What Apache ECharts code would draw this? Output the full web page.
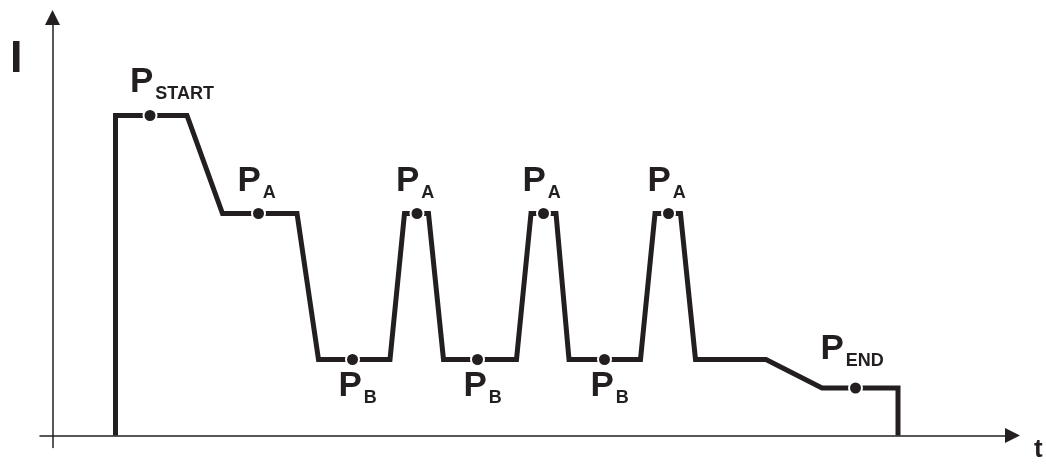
<!DOCTYPE html>
<html>
<head>
<meta charset="utf-8">
<script src="https://cdn.jsdelivr.net/npm/echarts@6/dist/echarts.min.js"></script>
<style>
  html, body { margin: 0; padding: 0; background: #ffffff; }
  #chart { width: 1046px; height: 465px; }
</style>
</head>
<body>
<div id="chart"></div>
<script>
// ---- data (time t, current I) ----
var profileT = [63, 63, 134.5, 170, 244.5, 266, 337.5, 352, 376, 391, 464, 478.5, 503.5, 516.5, 588, 602.5, 628, 643, 713.5, 769.5, 845.5, 845.5];
var profileI = [0, 320, 320, 222, 222, 76, 76, 222, 222, 76, 76, 222, 222, 76, 76, 222, 222, 76, 76, 47.5, 47.5, 0];

var pointT = [97.5, 206, 300, 364.5, 425, 491, 552, 616, 803];
var pointI = [320, 222, 76, 222, 76, 222, 76, 222, 47.5];
var pointSub = ['START', 'A', 'B', 'A', 'B', 'A', 'B', 'A', 'END'];

var axisNameI = 'I';
var axisNameT = 't';

// ---- build ----
var INK = '#231f20';
var FONT = '"Liberation Sans", Arial, sans-serif';

function labelOffset(sub) {
  if (sub === 'B') return [-14, 9];
  if (sub === 'END') return [-35, -56];
  if (sub === 'START') return [-20, -51];
  return [-21, -49.5];
}

var lineData = profileT.map(function (t, i) { return [t, profileI[i]]; });
var pointData = pointT.map(function (t, i) {
  return {
    value: [t, pointI[i]],
    label: {
      formatter: '{p|P}{s|' + pointSub[i] + '}',
      offset: labelOffset(pointSub[i])
    }
  };
});

var chart = echarts.init(document.getElementById('chart'), null, { renderer: 'canvas' });
chart.setOption({
  animation: false,
  backgroundColor: '#ffffff',
  grid: { left: 40, right: 33.5, top: 17.5, bottom: 17.5, containLabel: false },
  xAxis: {
    type: 'value', min: -12.5, max: 960,
    axisLine: { show: true, onZero: true, symbol: ['none', 'triangle'], symbolSize: [15, 15],
      lineStyle: { color: INK, width: 1.5 } },
    axisTick: { show: false }, axisLabel: { show: false }, splitLine: { show: false }
  },
  yAxis: {
    type: 'value', min: -12, max: 418,
    axisLine: { show: true, onZero: true, symbol: ['none', 'triangle'], symbolSize: [15, 15],
      lineStyle: { color: INK, width: 1.5 } },
    axisTick: { show: false }, axisLabel: { show: false }, splitLine: { show: false }
  },
  graphic: [
    { type: 'text', left: 10, top: 37, style: { text: axisNameI, fill: INK, font: 'bold 45px ' + FONT } },
    { type: 'text', left: 1034, top: 437, style: { text: axisNameT, fill: INK, font: 'bold 26px ' + FONT } }
  ],
  series: [
    {
      type: 'line', data: lineData, showSymbol: false, symbol: 'none', z: 2,
      lineStyle: { color: INK, width: 5, join: 'miter', miterLimit: 10, cap: 'butt' },
      emphasis: { disabled: true }
    },
    {
      type: 'scatter', data: pointData, z: 3,
      symbol: 'circle', symbolSize: 13,
      itemStyle: { color: INK, borderColor: '#ffffff', borderWidth: 2, opacity: 1 },
      label: {
        show: true, position: 'inside', align: 'left', verticalAlign: 'top',
        rich: {
          p: { fontFamily: FONT, fontWeight: 'bold', fontSize: 35, color: INK, lineHeight: 40, verticalAlign: 'top' },
          s: { fontFamily: FONT, fontWeight: 'bold', fontSize: 18, color: INK, lineHeight: 59, verticalAlign: 'middle', padding: [0, 0, 0, 2] }
        }
      },
      emphasis: { disabled: true }
    }
  ]
});
</script>
</body>
</html>
